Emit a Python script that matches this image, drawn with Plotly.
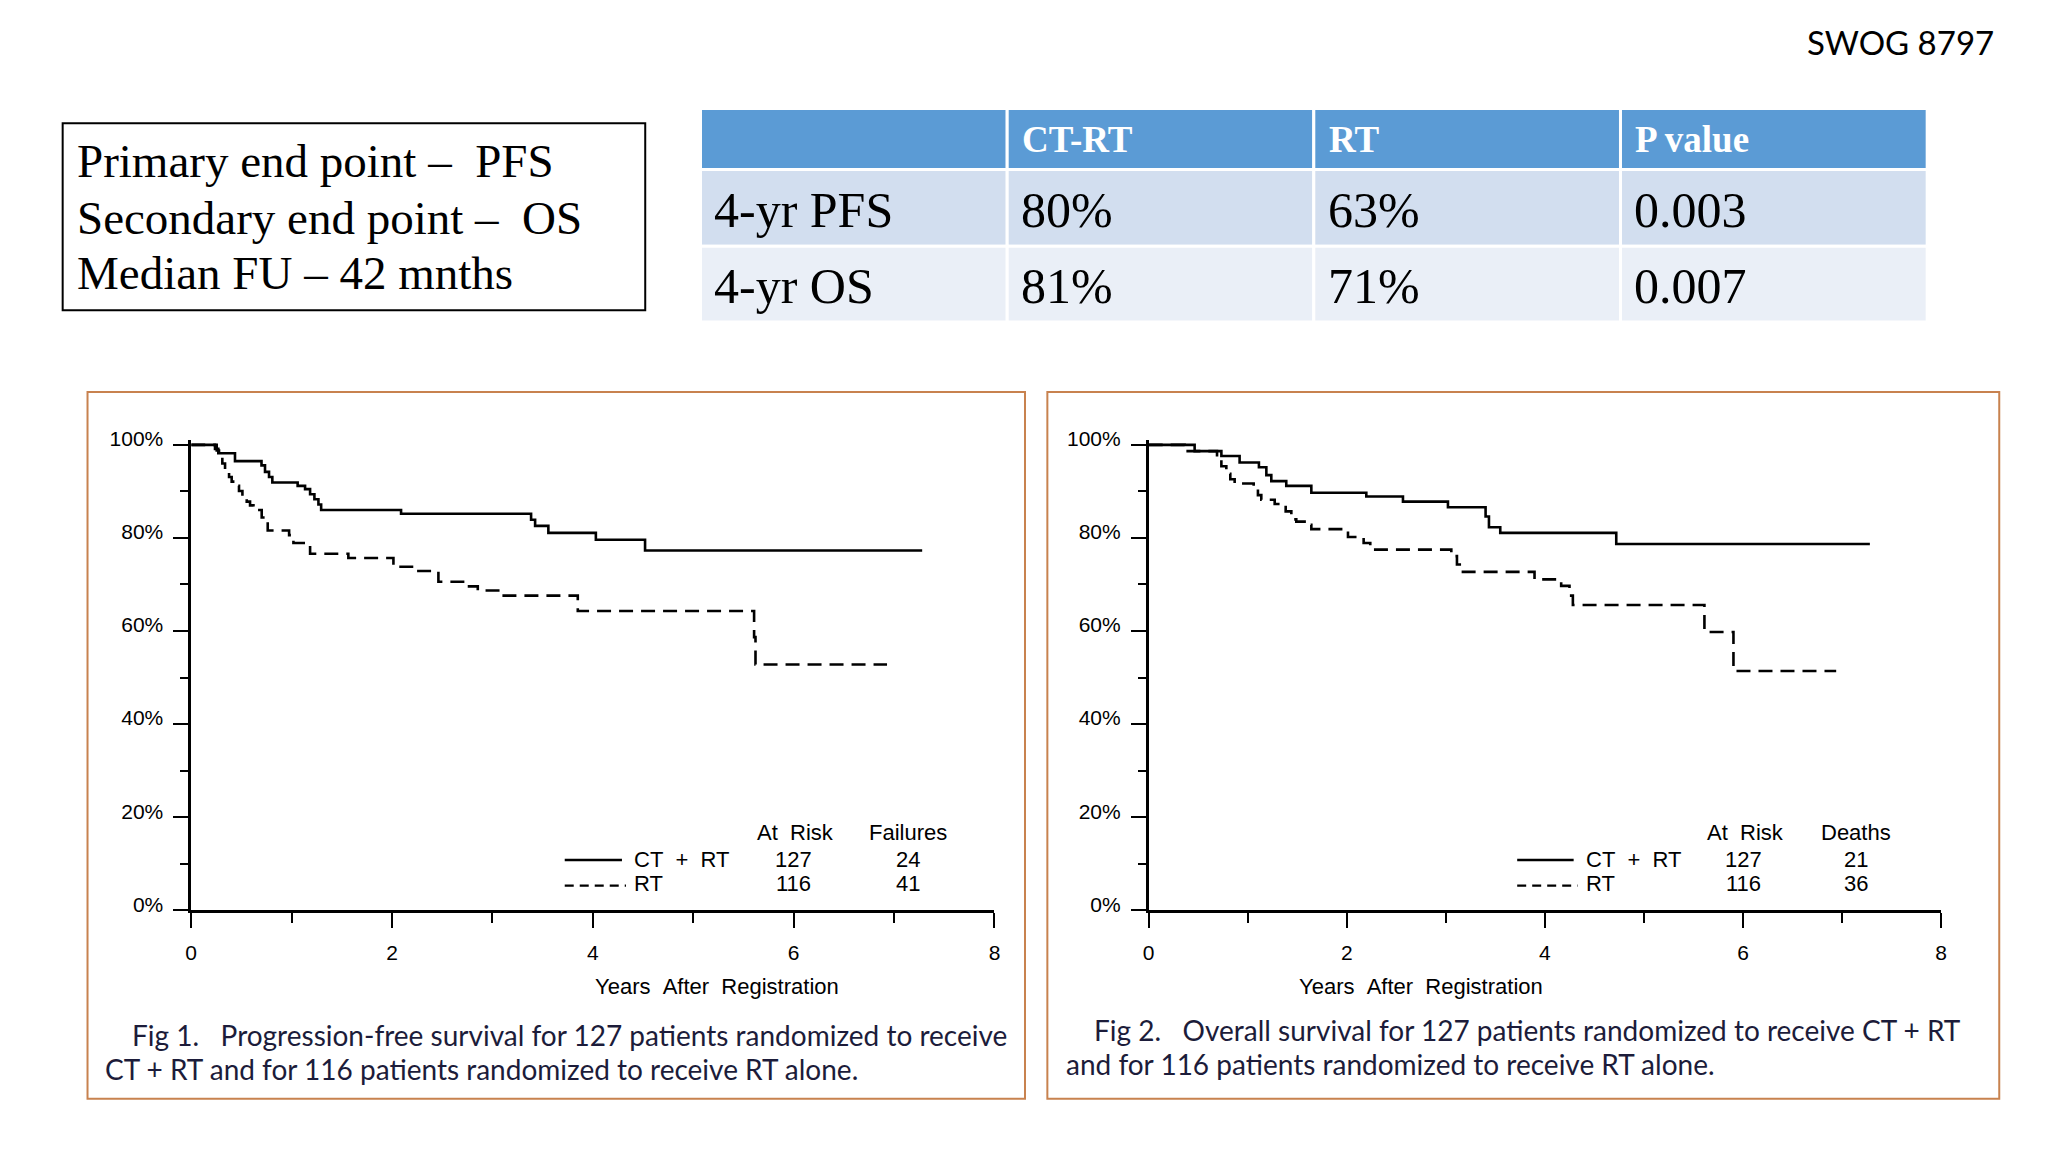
import plotly.graph_objects as go

# ---------------- data ----------------
pfs_ctrt_t = [0, 0.237, 0.27, 0.436, 0.70, 0.735, 0.775, 0.808, 1.06, 1.134, 1.184, 1.227, 1.267, 1.294,
              2.09, 3.385, 3.425, 3.557, 4.03, 4.52, 7.28]
pfs_ctrt_s = [100, 99.15, 98.2, 96.5, 95.6, 94.2, 93.1, 91.9, 91.2, 90.5, 89.4, 88.3, 87.2, 86.0,
              85.2, 83.9, 82.6, 81.1, 79.6, 77.3, 77.3]
pfs_rt_t = [0, 0.254, 0.277, 0.31, 0.337, 0.377, 0.403, 0.436, 0.476, 0.51, 0.553, 0.586, 0.62, 0.702,
            0.762, 0.975, 1.018, 1.184, 1.565, 2.014, 2.223, 2.462, 2.734, 2.854, 3.086, 3.85, 5.606,
            5.62, 6.93]
pfs_rt_s = [100, 98.8, 97.4, 96.0, 94.3, 93.1, 92.1, 91.2, 90.1, 88.9, 87.8, 87.0, 86.0, 84.4,
            81.6, 80.6, 78.9, 76.6, 75.7, 73.8, 72.9, 70.6, 69.6, 68.7, 67.6, 64.3, 58.7,
            52.8, 52.8]
os_ctrt_t = [0, 0.464, 0.734, 0.918, 1.113, 1.188, 1.238, 1.389, 1.642, 2.197, 2.567, 3.021, 3.401,
             3.435, 3.549, 4.72, 7.28]
os_ctrt_s = [100, 98.65, 97.6, 96.2, 95.2, 93.5, 92.2, 91.2, 89.7, 88.9, 87.8, 86.6, 84.6,
             82.3, 81.1, 78.7, 78.7]
os_rt_t = [0, 0.363, 0.69, 0.734, 0.784, 0.824, 0.868, 1.06, 1.103, 1.137, 1.272, 1.383, 1.44, 1.49,
           1.608, 1.642, 1.961, 2.012, 2.17, 2.237, 3.055, 3.112, 3.155, 3.895, 4.164, 4.248, 4.282,
           5.61, 5.903, 6.94]
os_rt_s = [100, 98.65, 97.4, 95.4, 93.8, 92.6, 91.7, 90.4, 89.2, 88.2, 87.3, 85.7, 84.0, 83.5,
           82.8, 81.9, 81.1, 80.2, 78.9, 77.5, 76.1, 74.3, 72.7, 71.1, 69.7, 67.6, 65.6,
           59.8, 51.4, 51.4]

arm_names = ["CT\u00a0\u00a0+\u00a0\u00a0RT", "RT"]
at_risk = [127, 116]
failures = [24, 41]
deaths = [21, 36]

table_header = ["", "CT-RT", "RT", "P value"]
table_rows = ["4-yr PFS", "4-yr OS"]
table_ctrt = ["80%", "81%"]
table_rt = ["63%", "71%"]
table_p = ["0.003", "0.007"]

y_ticks = [0, 20, 40, 60, 80, 100]
y_ticklabels = ["0%", "20%", "40%", "60%", "80%", "100%"]
x_ticks = [0, 2, 4, 6, 8]

info_lines = ["Primary end point \u2013  PFS", "Secondary end point \u2013  OS", "Median FU \u2013 42 mnths"]
cap1 = ["Fig 1.\u00a0\u00a0\u00a0Progression-free survival for 127 patients randomized to receive",
        "CT + RT and for 116 patients randomized to receive RT alone."]
cap2 = ["Fig 2.\u00a0\u00a0\u00a0Overall survival for 127 patients randomized to receive CT + RT",
        "and for 116 patients randomized to receive RT alone."]

# ---------------- layout helpers ----------------
W, H = 2048, 1152
def fx(X): return X / W
def fy(Y): return 1 - Y / H

SANS = "Liberation Sans, Arial"
SERIF = "Liberation Serif, Times New Roman"
CAPF = "Lato, Open Sans"
FRAME = "#C8824F"

fig = go.Figure()

def add_curves(t1, s1, t2, s2, xa, ya):
    fig.add_trace(go.Scatter(x=t1, y=s1, mode="lines", line=dict(shape="hv", color="black", width=2.6),
                             name=arm_names[0], xaxis=xa, yaxis=ya, showlegend=False, hoverinfo="skip"))
    fig.add_trace(go.Scatter(x=t2, y=s2, mode="lines", line=dict(shape="hv", color="black", width=2.6,
                             dash="14px,8px"), name=arm_names[1], xaxis=xa, yaxis=ya, showlegend=False,
                             hoverinfo="skip"))

add_curves(pfs_ctrt_t, pfs_ctrt_s, pfs_rt_t, pfs_rt_s, "x", "y")
add_curves(os_ctrt_t, os_ctrt_s, os_rt_t, os_rt_s, "x2", "y2")

axis_common = dict(showline=True, linecolor="black", linewidth=2.5, showgrid=False, zeroline=False,
                   ticks="outside", tickcolor="black", tickwidth=2, ticklen=15,
                   tickfont=dict(family=SANS, size=21, color="black"))
xd1 = [fx(186.3), fx(994.3)]
xd2 = [fx(1149.4), fx(1946.6)]
yd = [fy(911.5), fy(434)]
for xa, ya, xd, anc_x, anc_y in [("xaxis", "yaxis", xd1, "y", "x"), ("xaxis2", "yaxis2", xd2, "y2", "x2")]:
    fig.layout[xa] = dict(axis_common, domain=xd, range=[0, 8], anchor=anc_x, tickmode="array",
                          tickvals=x_ticks, ticktext=[str(v) for v in x_ticks],
                          minor=dict(dtick=1, tick0=0, ticks="outside", ticklen=10, tickwidth=2,
                                     tickcolor="black"), ticklabelstandoff=7)
    fig.layout[ya] = dict(axis_common, domain=yd, range=[0, 101], anchor=anc_y, tickmode="array",
                          tickvals=y_ticks, ticktext=y_ticklabels,
                          minor=dict(dtick=10, tick0=0, ticks="outside", ticklen=8,
                                     tickwidth=2, tickcolor="black"),
                          ticklabelstandoff=6, ticklabelshift=-6)

ann = []
shapes = []
TXT = dict(family=SANS, size=22, color="black")

# ---- summary table (cells as shapes, text from the lists) ----
col_x = [698.6, 1007.1, 1315.5, 1624.0, 1932.5]
row_y = [97, 159, 237, 314]
row_fill = ["#D2DEEF", "#EAEFF7"]
columns = [table_rows, table_ctrt, table_rt, table_p]
for c in range(4):
    x0, x1 = col_x[c], col_x[c + 1]
    shapes.append(dict(type="rect", xref="paper", yref="paper", x0=fx(x0), x1=fx(x1),
                       y0=fy(row_y[1]), y1=fy(row_y[0]), fillcolor="#5B9BD5",
                       line=dict(color="white", width=3), layer="below"))
    if table_header[c]:
        ann.append(dict(x=fx(x0 + 13), y=fy((row_y[0] + row_y[1]) / 2 + 1), xref="paper", yref="paper",
                        xanchor="left", yanchor="middle", showarrow=False,
                        text="<b>" + table_header[c] + "</b>",
                        font=dict(family=SERIF, size=37, color="white")))
    for r in range(2):
        shapes.append(dict(type="rect", xref="paper", yref="paper", x0=fx(x0), x1=fx(x1),
                           y0=fy(row_y[r + 2]), y1=fy(row_y[r + 1]), fillcolor=row_fill[r],
                           line=dict(color="white", width=3), layer="below"))
        ann.append(dict(x=fx(x0 + 12), y=fy((row_y[r + 1] + row_y[r + 2]) / 2 + 2), xref="paper",
                        yref="paper", xanchor="left", yanchor="middle", showarrow=False,
                        text=columns[c][r], font=dict(family=SERIF, size=50, color="black")))

# at-risk key inside the plots
for xr, yr, last_head, last_vals in [("x", "y", "Failures", failures), ("x2", "y2", "Deaths", deaths)]:
    ann.append(dict(x=6.02, y=16.8, xref=xr, yref=yr, text="At\u00a0\u00a0Risk", showarrow=False, font=TXT))
    ann.append(dict(x=7.14, y=16.8, xref=xr, yref=yr, text=last_head, showarrow=False, font=TXT))
    for i, yy in enumerate([11.0, 5.7]):
        ann.append(dict(x=4.39, y=yy, xref=xr, yref=yr, text=arm_names[i], showarrow=False, font=TXT,
                        xanchor="left"))
        ann.append(dict(x=6.0, y=yy, xref=xr, yref=yr, text=str(at_risk[i]), showarrow=False, font=TXT))
        ann.append(dict(x=7.14, y=yy, xref=xr, yref=yr, text=str(last_vals[i]), showarrow=False, font=TXT))
    shapes.append(dict(type="line", xref=xr, yref=yr, x0=3.72, x1=4.29, y0=10.8, y1=10.8,
                       line=dict(color="black", width=2.4)))
    shapes.append(dict(type="line", xref=xr, yref=yr, x0=3.72, x1=4.33, y0=5.3, y1=5.3,
                       line=dict(color="black", width=2.4, dash="9px,6px")))

# x titles
for cx in [fx(590), fx(1548)]:
    ann.append(dict(x=cx, y=fy(989), xref="paper", yref="paper", showarrow=False, yanchor="middle",
                    text="Years\u00a0\u00a0After\u00a0\u00a0Registration", font=TXT))

# captions
for txt, X, Y in [(cap1[0], 125, 1038), (cap1[1], 98, 1073), (cap2[0], 1092, 1033),
                  (cap2[1], 1064, 1068)]:
    ann.append(dict(x=fx(X), y=fy(Y), xref="paper", yref="paper", xanchor="left", yanchor="middle",
                    showarrow=False, text=txt, font=dict(family=CAPF, size=28, color="#1c1c3a")))

# info box text
for txt, Y in zip(info_lines, [150.5, 208, 264]):
    ann.append(dict(x=fx(69), y=fy(Y), xref="paper", yref="paper", xanchor="left", yanchor="middle",
                    showarrow=False, text=txt, font=dict(family=SERIF, size=47, color="black")))

ann.append(dict(x=fx(2002), y=fy(29), xref="paper", yref="paper", xanchor="right", yanchor="middle",
                showarrow=False, text="SWOG 8797", font=dict(family="Lato, Open Sans", size=33, color="black")))

shapes += [
    dict(type="rect", xref="paper", yref="paper", x0=fx(57), x1=fx(643), y0=fy(302), y1=fy(112),
         line=dict(color="black", width=2)),
    dict(type="rect", xref="paper", yref="paper", x0=fx(82), x1=fx(1025), y0=fy(1103), y1=fy(385),
         line=dict(color=FRAME, width=2)),
    dict(type="rect", xref="paper", yref="paper", x0=fx(1047.5), x1=fx(2005), y0=fy(1103), y1=fy(385),
         line=dict(color=FRAME, width=2)),
]

fig.update_layout(
    width=W, height=H, margin=dict(l=0, r=0, t=0, b=0),
    paper_bgcolor="white", plot_bgcolor="rgba(0,0,0,0)",
    showlegend=False,
    annotations=ann, shapes=shapes,
)

fig.write_html("out.html", config={"displayModeBar": False},
               post_script="document.body.style.margin='0px';document.body.style.overflow='hidden';")
